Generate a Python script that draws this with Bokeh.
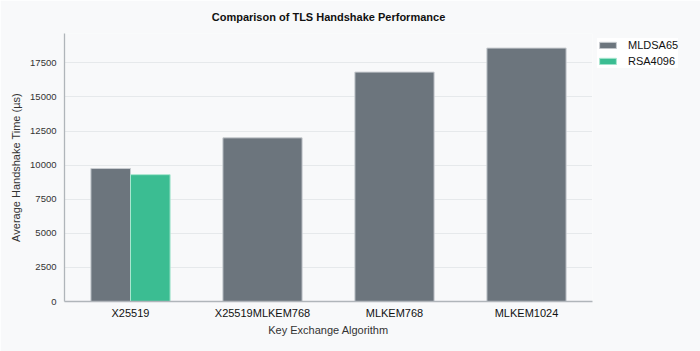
from bokeh.plotting import figure
from bokeh.models import ColumnDataSource, Legend, LegendItem
from bokeh.embed import file_html
from bokeh.resources import INLINE

categories = ["X25519", "X25519MLKEM768", "MLKEM768", "MLKEM1024"]
mldsa65 = [9750, 12000, 16820, 18580]
rsa4096 = [9300, None, None, None]
series_names = ["MLDSA65", "RSA4096"]
colors = ["#6c757d", "#3bbd92"]

BG = "#f8f9fa"

p = figure(frame_width=528, frame_height=268, output_backend="svg", toolbar_location=None,
           x_range=(0, len(categories)), y_range=(0, 19650),
           title="Comparison of TLS Handshake Performance",
           background_fill_color=BG, border_fill_color=BG,
           min_border_left=64, min_border_right=108, min_border_top=33, min_border_bottom=50)

x_m, top_m, w_m = [], [], []
x_r, top_r, w_r = [], [], []
for i, (m, r) in enumerate(zip(mldsa65, rsa4096)):
    c = i + 0.5
    if r is not None:
        x_m.append(c - 0.15); top_m.append(m); w_m.append(0.3)
        x_r.append(c + 0.15); top_r.append(r); w_r.append(0.3)
    else:
        x_m.append(c); top_m.append(m); w_m.append(0.6)

src_m = ColumnDataSource(dict(x=x_m, top=top_m, w=w_m))
src_r = ColumnDataSource(dict(x=x_r, top=top_r, w=w_r))

r1 = p.vbar(x="x", top="top", width="w", source=src_m, fill_color=colors[0],
            line_color="#c8ccd0", line_width=1)
r2 = p.vbar(x="x", top="top", width="w", source=src_r, fill_color=colors[1],
            line_color="#a8e6cf", line_width=1)

p.title.align = "center"
p.title.text_font = "Liberation Sans"
p.title.text_font_size = "11px"
p.title.text_font_style = "bold"
p.title.text_color = "#111111"
p.title.standoff = 17
p.title.vertical_align = "top"

p.xaxis.ticker = [i + 0.5 for i in range(len(categories))]
p.xaxis.major_label_overrides = {i + 0.5: c for i, c in enumerate(categories)}
p.xaxis.axis_label = "Key Exchange Algorithm"
p.yaxis.axis_label = "Average Handshake Time (µs)"
p.yaxis.ticker = [0, 2500, 5000, 7500, 10000, 12500, 15000, 17500]

for ax in (p.xaxis[0], p.yaxis[0]):
    ax.axis_line_color = "#b0b5ba"
    ax.axis_line_width = 1.3
    ax.major_tick_line_color = None
    ax.minor_tick_line_color = None
    ax.major_tick_out = 0
    ax.major_tick_in = 0
    ax.axis_label_text_font = "Liberation Sans"
    ax.axis_label_text_font_size = "11px"
    ax.axis_label_text_font_style = "normal"
    ax.axis_label_text_color = "#333333"
    ax.major_label_text_font = "Liberation Sans"

p.xaxis.major_label_text_font_size = "11px"
p.xaxis.major_label_text_color = "#111111"
p.yaxis.major_label_text_font_size = "9.5px"
p.yaxis.major_label_text_color = "#333333"
p.xaxis.major_label_standoff = 5
p.yaxis.major_label_standoff = 8
p.xaxis.axis_label_standoff = 2
p.yaxis.axis_label_standoff = 5

p.xgrid.grid_line_color = None
p.ygrid.grid_line_color = "#d5d8dc"
p.ygrid.grid_line_dash = "1 1"
p.ygrid.grid_line_width = 1
p.outline_line_color = None

legend = Legend(items=[LegendItem(label=series_names[0], renderers=[r1]),
                       LegendItem(label=series_names[1], renderers=[r2])],
                location="top_left")
legend.label_text_font = "Liberation Sans"
legend.label_text_font_size = "11px"
legend.label_text_color = "#111111"
legend.background_fill_color = "white"
legend.background_fill_alpha = 1
legend.border_line_color = None
legend.glyph_width = 21
legend.glyph_height = 8
legend.label_height = 14
legend.spacing = 2
legend.padding = 6
legend.margin = 5
legend.label_standoff = 10
p.add_layout(legend, "right")

open("out.html", "w").write(file_html(p, INLINE))
